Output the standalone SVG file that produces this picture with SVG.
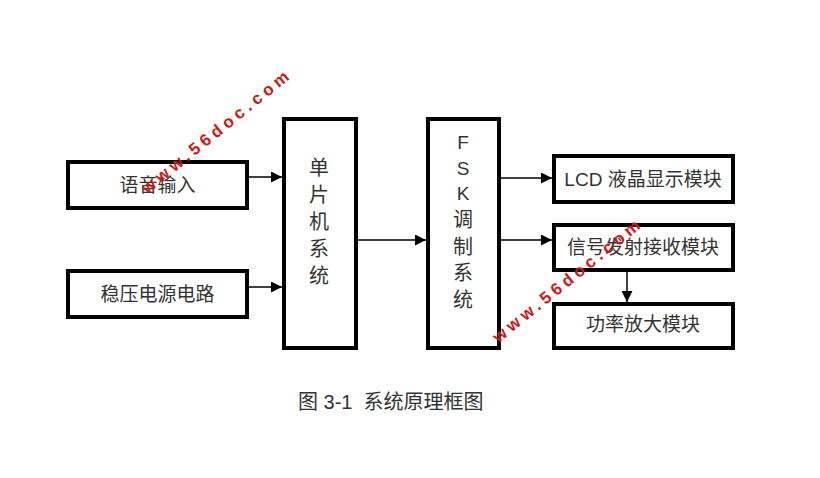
<svg xmlns="http://www.w3.org/2000/svg" width="820" height="478" viewBox="0 0 820 478">
<style>
.box{fill:#fff;stroke:#000;stroke-width:4}
.t{font-family:"Liberation Sans","Noto Sans CJK SC",sans-serif;font-size:19px;fill:#333;text-anchor:middle;dominant-baseline:central}
.ln{stroke:#000;stroke-width:1.5;fill:none}
.wm{font-family:"Liberation Sans",sans-serif;font-weight:bold;font-size:17px;fill:#d01818;letter-spacing:4.3px;text-anchor:middle;dominant-baseline:central}
</style>
<defs>
<marker id="ah" viewBox="0 0 10 10" refX="10" refY="5" markerWidth="11" markerHeight="11" markerUnits="userSpaceOnUse" orient="auto">
<path d="M0,0 L10,5 L0,10 z" fill="#000"/>
</marker>
</defs>
<rect width="820" height="478" fill="#fff"/>
<g id="connectors">
<line class="ln" x1="249" y1="177" x2="282" y2="177" marker-end="url(#ah)"/>
<line class="ln" x1="249" y1="287" x2="282" y2="287" marker-end="url(#ah)"/>
<line class="ln" x1="358" y1="240" x2="426" y2="240" marker-end="url(#ah)"/>
<line class="ln" x1="501" y1="178" x2="552" y2="178" marker-end="url(#ah)"/>
<line class="ln" x1="501" y1="240" x2="552" y2="240" marker-end="url(#ah)"/>
<line class="ln" x1="627" y1="272" x2="627" y2="302" marker-end="url(#ah)"/>
</g>
<g id="voice">
<rect class="box" x="68" y="162" width="179" height="46"/>
<text class="t" x="157.5" y="185">语音输入</text>
</g>
<g id="power">
<rect class="box" x="68" y="271" width="179" height="46"/>
<text class="t" x="157.5" y="294">稳压电源电路</text>
</g>
<g id="mcu">
<rect class="box" x="284" y="119" width="72" height="229"/>
<text class="t" x="319" y="168" style="font-size:20px">单</text>
<text class="t" x="319" y="195" style="font-size:20px">片</text>
<text class="t" x="319" y="222" style="font-size:20px">机</text>
<text class="t" x="319" y="249" style="font-size:20px">系</text>
<text class="t" x="319" y="276" style="font-size:20px">统</text>
</g>
<g id="fsk">
<rect class="box" x="428" y="119" width="71" height="229"/>
<text class="t" x="463" y="142">F</text>
<text class="t" x="463" y="168">S</text>
<text class="t" x="463" y="193">K</text>
<text class="t" x="463" y="220" style="font-size:20px">调</text>
<text class="t" x="463" y="247" style="font-size:20px">制</text>
<text class="t" x="463" y="273" style="font-size:20px">系</text>
<text class="t" x="463" y="300" style="font-size:20px">统</text>
</g>
<g id="lcd">
<rect class="box" x="554" y="156" width="179" height="46"/>
<text class="t" x="643" y="179">LCD 液晶显示模块</text>
</g>
<g id="rf">
<rect class="box" x="554" y="225" width="179" height="45"/>
<text class="t" x="643" y="247">信号发射接收模块</text>
</g>
<g id="amp">
<rect class="box" x="554" y="304" width="179" height="44"/>
<text class="t" x="643" y="324">功率放大模块</text>
</g>
<text class="t" x="298" y="402" xml:space="preserve" style="font-size:20px;text-anchor:start">图 3-1  系统原理框图</text>
<text class="wm" transform="translate(217,131) rotate(-39)">www.56doc.com</text>
<text class="wm" transform="translate(568,280) rotate(-39)">www.56doc.com</text>
</svg>
